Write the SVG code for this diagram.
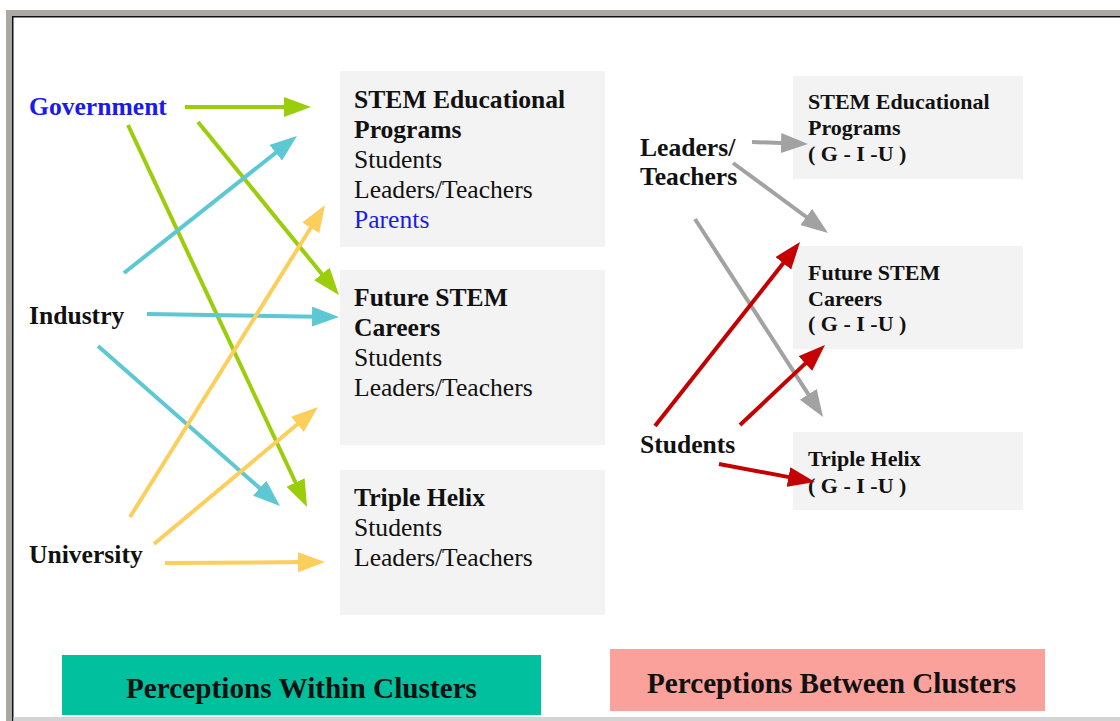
<svg xmlns="http://www.w3.org/2000/svg" width="1120" height="721" viewBox="0 0 1120 721">
<style>
text{font-family:"Liberation Serif","Times New Roman",serif;fill:#111}
.b{font-weight:bold}
.L{font-size:25.6px}
.S{font-size:22px;font-weight:bold}
.blue{fill:#1a1aee}
.box{fill:#f3f3f3}
.ln{stroke-width:4;fill:none}
.g{stroke:#9acd0a}.c{stroke:#5bc8d4}.y{stroke:#fcce5c}.gr{stroke:#a2a2a2}.r{stroke:#c40000}
.ft{font-size:30px;font-weight:bold}
</style>
<defs>
<marker id="ag" markerUnits="userSpaceOnUse" markerWidth="28" markerHeight="21" refX="6" refY="10" orient="auto"><path d="M0,0 L27,10 L0,20 z" fill="#9acd0a"/></marker>
<marker id="ac" markerUnits="userSpaceOnUse" markerWidth="28" markerHeight="21" refX="6" refY="10" orient="auto"><path d="M0,0 L27,10 L0,20 z" fill="#5bc8d4"/></marker>
<marker id="ay" markerUnits="userSpaceOnUse" markerWidth="28" markerHeight="21" refX="6" refY="10" orient="auto"><path d="M0,0 L27,10 L0,20 z" fill="#fcce5c"/></marker>
<marker id="agr" markerUnits="userSpaceOnUse" markerWidth="28" markerHeight="21" refX="6" refY="10" orient="auto"><path d="M0,0 L27,10 L0,20 z" fill="#a2a2a2"/></marker>
<marker id="ar" markerUnits="userSpaceOnUse" markerWidth="28" markerHeight="21" refX="6" refY="10" orient="auto"><path d="M0,0 L27,10 L0,20 z" fill="#c40000"/></marker>
</defs>
<rect width="1120" height="721" fill="#ffffff"/>
<g id="frame">
<rect x="6" y="10" width="1114" height="6" fill="#aaa7a4"/>
<rect x="6" y="10" width="6" height="711" fill="#aaa7a4"/>
<rect x="12" y="16" width="1108" height="1.5" fill="#111"/>
<rect x="12" y="16" width="1.5" height="705" fill="#111"/>
<rect x="13.5" y="717" width="1106.5" height="4" fill="#d4d4d4"/>
</g>

<g id="box-stem-edu">
<rect class="box" x="340" y="71" width="265" height="176"/>
<text class="L b" x="354" y="107.5">STEM Educational</text>
<text class="L b" x="354" y="137.5">Programs</text>
<text class="L" x="354" y="167.5">Students</text>
<text class="L" x="354" y="197.5">Leaders/Teachers</text>
<text class="L blue" x="354" y="227.5">Parents</text>
</g>
<g id="box-future">
<rect class="box" x="340" y="270" width="265" height="175"/>
<text class="L b" x="354" y="306">Future STEM</text>
<text class="L b" x="354" y="336">Careers</text>
<text class="L" x="354" y="366">Students</text>
<text class="L" x="354" y="396">Leaders/Teachers</text>
</g>
<g id="box-helix">
<rect class="box" x="340" y="470" width="265" height="145"/>
<text class="L b" x="354" y="506">Triple Helix</text>
<text class="L" x="354" y="536">Students</text>
<text class="L" x="354" y="566">Leaders/Teachers</text>
</g>

<g id="lbl-government"><text class="L b blue" x="29" y="115">Government</text></g>
<g id="lbl-industry"><text class="L b" x="29" y="324">Industry</text></g>
<g id="lbl-university"><text class="L b" x="29" y="563">University</text></g>

<g id="rbox-stem-edu">
<rect class="box" x="793" y="76" width="230" height="103"/>
<text class="S" x="808" y="109">STEM Educational</text>
<text class="S" x="808" y="135">Programs</text>
<text class="S" x="808" y="161">( G - I -U )</text>
</g>
<g id="rbox-future">
<rect class="box" x="793" y="246" width="230" height="103"/>
<text class="S" x="808" y="280">Future STEM</text>
<text class="S" x="808" y="306">Careers</text>
<text class="S" x="808" y="331">( G - I -U )</text>
</g>
<g id="rbox-helix">
<rect class="box" x="793" y="432" width="230" height="78"/>
<text class="S" x="808" y="466">Triple Helix</text>
<text class="S" x="808" y="493">( G - I -U )</text>
</g>

<g id="lbl-leaders">
<text class="L b" x="640" y="156">Leaders/</text>
<text class="L b" x="640" y="185">Teachers</text>
</g>
<g id="lbl-students"><text class="L b" x="640" y="453">Students</text></g>

<g id="connectors">
<line class="ln g" x1="185" y1="107" x2="290" y2="107" marker-end="url(#ag)"/>
<line class="ln g" x1="198" y1="122" x2="325.7" y2="278.7" marker-end="url(#ag)"/>
<line class="ln g" x1="128" y1="125" x2="298.1" y2="488" marker-end="url(#ag)"/>
<line class="ln c" x1="124" y1="273" x2="280.5" y2="149" marker-end="url(#ac)"/>
<line class="ln c" x1="147" y1="314" x2="318" y2="316.7" marker-end="url(#ac)"/>
<line class="ln c" x1="98" y1="346" x2="264.2" y2="492.1" marker-end="url(#ac)"/>
<line class="ln y" x1="130" y1="517" x2="313.9" y2="222.8" marker-end="url(#ay)"/>
<line class="ln y" x1="154" y1="544" x2="301.9" y2="420.5" marker-end="url(#ay)"/>
<line class="ln y" x1="165" y1="563" x2="304" y2="562.1" marker-end="url(#ay)"/>
<line class="ln gr" x1="752" y1="142" x2="787" y2="143.3" marker-end="url(#agr)"/>
<line class="ln gr" x1="733" y1="163" x2="811.1" y2="220.5" marker-end="url(#agr)"/>
<line class="ln gr" x1="695" y1="219" x2="811.6" y2="399.4" marker-end="url(#agr)"/>
<line class="ln r" x1="655" y1="426" x2="787" y2="258.5" marker-end="url(#ar)"/>
<line class="ln r" x1="740" y1="425" x2="809.7" y2="359.4" marker-end="url(#ar)"/>
<line class="ln r" x1="719" y1="464" x2="794.4" y2="478.1" marker-end="url(#ar)"/>
</g>

<g id="legend-within">
<rect x="62" y="655" width="479" height="60" fill="#00c09e"/>
<text class="ft" x="301.5" y="698" text-anchor="middle" textLength="351" lengthAdjust="spacingAndGlyphs">Perceptions Within Clusters</text>
</g>
<g id="legend-between">
<rect x="610" y="649" width="435" height="62" fill="#f9a19a"/>
<text class="ft" x="831.5" y="693" text-anchor="middle" textLength="369" lengthAdjust="spacingAndGlyphs">Perceptions Between Clusters</text>
</g>
</svg>
